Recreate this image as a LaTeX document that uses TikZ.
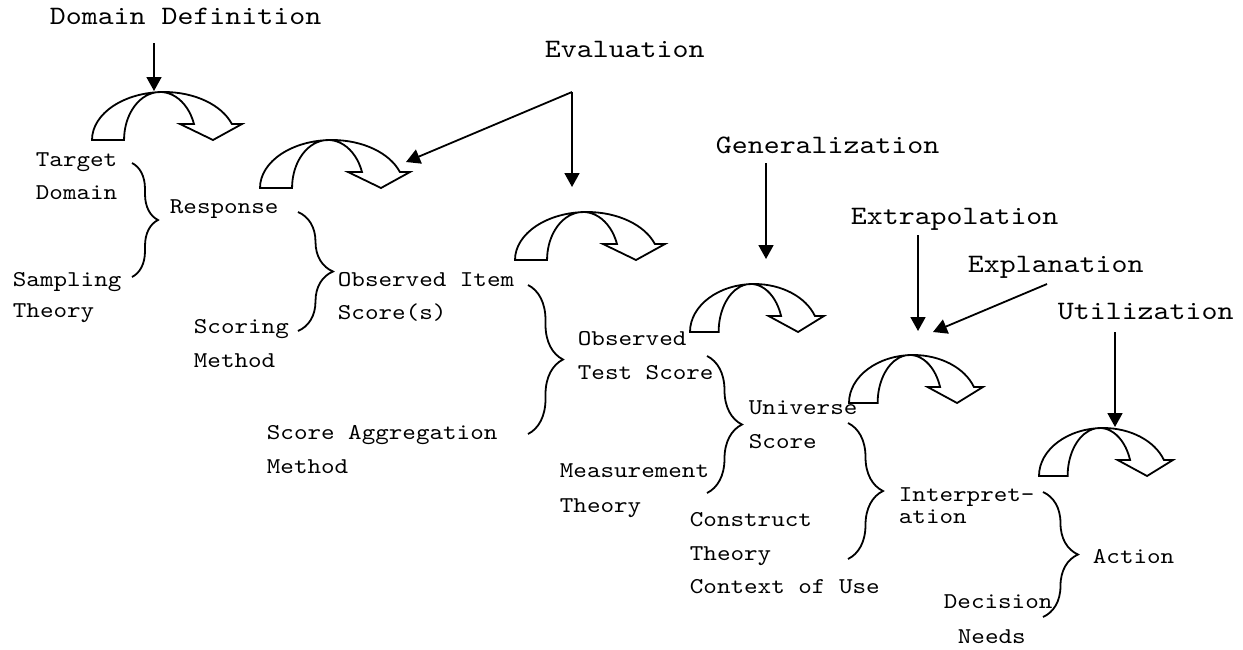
\documentclass[tikz,border=0pt]{standalone}
\usepackage{fontspec}
\newfontfamily\courier{lmmono10-regular.otf}[FakeStretch=1.143]
\usetikzlibrary{arrows.meta,decorations.pathreplacing}
\tikzset{
  bendarrow/.pic={
    \draw[line width=0.9pt] (0,0) arc[start angle=180,end angle=19.47,x radius=36pt,y radius=24pt]
      -- (75pt,8pt) -- (60.5pt,0pt) -- (44pt,8pt) -- (51pt,8pt)
      arc[start angle=19.47,end angle=180,x radius=18pt,y radius=24pt] -- cycle;
  },
  lbl/.style={anchor=base west,inner sep=0pt,font=\courier\fontsize{11.3}{13}\selectfont},
  ttl/.style={anchor=base west,inner sep=0pt,font=\courier\fontsize{13.3}{16}\selectfont},
  brc/.style={decorate,decoration={brace,amplitude=#1},line width=0.9pt},
  brc/.default=17.5pt
}
\begin{document}
\begin{tikzpicture}[x=0.5pt,y=-0.5pt,>={Triangle[length=7pt,width=7.5pt]},line width=0.9pt]
\useasboundingbox (0,0) rectangle (1243,649);

% stage names
\node (dom) at (49,24)[ttl]{Domain Definition};
\node (eval) at (544,57)[ttl]{Evaluation};
\node (gen) at (715,153)[ttl]{Generalization};
\node (extr) at (850,224)[ttl]{Extrapolation};
\node (expl) at (967,272)[ttl]{Explanation};
\node (util) at (1057,319)[ttl]{Utilization};

% inferences
\pic at (92,140) {bendarrow};
\pic at (260,188) {bendarrow};
\pic at (515,260) {bendarrow};
\pic[xscale=0.893] at (690,332) {bendarrow};
\pic[xscale=0.893] at (849,403) {bendarrow};
\pic[xscale=0.893] at (1039,476) {bendarrow};

\coordinate (d0) at (154,43);  \coordinate (d1) at (154,91);
\coordinate (e0) at (572,92);  \coordinate (e1) at (572,187); \coordinate (e2) at (406,162);
\coordinate (g0) at (766,163); \coordinate (g1) at (766,259);
\coordinate (x0) at (918,235); \coordinate (x1) at (918,331);
\coordinate (p0) at (1047,284); \coordinate (p1) at (933,332);
\coordinate (u0) at (1115,332); \coordinate (u1) at (1115,427);

\draw[->] (d0)--(d1);
\draw[->] (e0)--(e1);
\draw[->] (e0)--(e2);
\draw[->] (g0)--(g1);
\draw[->] (x0)--(x1);
\draw[->] (p0)--(p1);
\draw[->] (u0)--(u1);

% claims and warrants
\node (tgt) at (35,166)[lbl]{Target};
\node (tgt2) at (35,199)[lbl]{Domain};
\node (smp) at (12,286)[lbl]{Sampling};
\node (smp2) at (12,317)[lbl]{Theory};
\node (resp) at (169,213)[lbl]{Response};
\node (scm) at (193,333)[lbl]{Scoring};
\node (scm2) at (193,367)[lbl]{Method};
\node (obs) at (337,286)[lbl]{Observed Item};
\node (obs2) at (337,319)[lbl]{Score(s)};
\node (agg) at (266,439)[lbl]{Score Aggregation};
\node (agg2) at (266,473)[lbl]{Method};
\node (tst) at (577,345)[lbl]{Observed};
\node (tst2) at (577,379)[lbl]{Test Score};
\node (uni) at (748,414)[lbl]{Universe};
\node (uni2) at (748,448)[lbl]{Score};
\node (mth) at (559,477)[lbl]{Measurement};
\node (mth2) at (559,512)[lbl]{Theory};
\node (cns) at (689,526)[lbl]{Construct};
\node (cns2) at (689,560)[lbl]{Theory};
\node (ctx) at (689,593)[lbl]{Context of Use};
\node (intp) at (898,501)[lbl]{Interpret-};
\node (intp2) at (898,523)[lbl]{ation};
\node (act) at (1092,563)[lbl]{Action};
\node (dec) at (943,608)[lbl]{Decision};
\node (dec2) at (957,643)[lbl]{Needs};

% braces
\draw[brc=13pt] (132,163)--(132,277);
\draw[brc] (298,212)--(298,331);
\draw[brc] (528,285)--(528,434);
\draw[brc] (707,356)--(707,493);
\draw[brc] (848,423)--(848,559);
\draw[brc] (1043,492)--(1043,617);
\end{tikzpicture}
\end{document}
